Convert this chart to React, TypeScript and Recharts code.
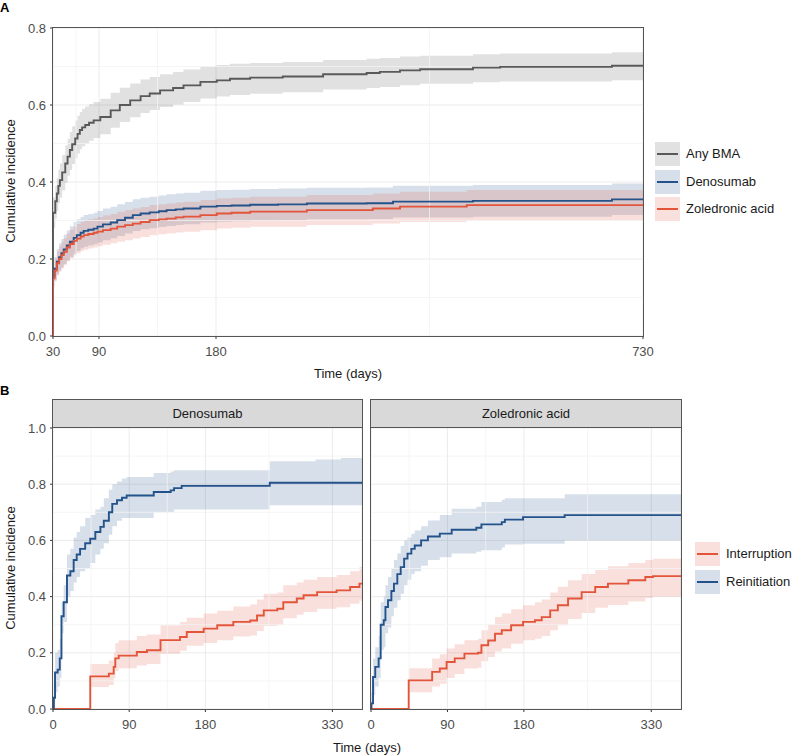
import React from 'react';
import { ComposedChart, Area, Line, XAxis, YAxis, CartesianGrid, ReferenceLine } from 'recharts';

// ---------- Panel A: cumulative incidence of BMA use (days since start) ----------
// first point of each series is the zero at day 30, the curve jumps up from there
const ANY_DAYS = [30, 30, 33, 35, 37, 39, 42, 46, 49, 52, 55, 59, 62, 65, 68, 72, 77, 83, 91, 99, 106, 114, 122, 129, 137, 147, 155, 168, 181, 198, 224, 266, 318, 374, 391, 417, 443, 511, 546, 690, 730];
const ANY_EST = [0, 0.32, 0.35, 0.37, 0.39, 0.405, 0.425, 0.448, 0.466, 0.483, 0.498, 0.513, 0.525, 0.535, 0.542, 0.548, 0.554, 0.56, 0.569, 0.586, 0.6, 0.612, 0.623, 0.63, 0.638, 0.644, 0.651, 0.66, 0.664, 0.668, 0.671, 0.674, 0.68, 0.683, 0.686, 0.69, 0.693, 0.697, 0.699, 0.702, 0.702];
const ANY_LO = [0, 0.28, 0.305, 0.325, 0.345, 0.36, 0.378, 0.398, 0.416, 0.432, 0.447, 0.462, 0.474, 0.485, 0.493, 0.5, 0.507, 0.514, 0.524, 0.541, 0.556, 0.568, 0.579, 0.587, 0.595, 0.601, 0.608, 0.617, 0.622, 0.626, 0.629, 0.633, 0.64, 0.644, 0.647, 0.651, 0.655, 0.659, 0.661, 0.664, 0.664];
const ANY_HI = [0, 0.36, 0.39, 0.41, 0.432, 0.448, 0.47, 0.495, 0.512, 0.53, 0.545, 0.56, 0.572, 0.582, 0.59, 0.596, 0.602, 0.608, 0.616, 0.632, 0.645, 0.656, 0.666, 0.673, 0.68, 0.686, 0.692, 0.7, 0.704, 0.707, 0.709, 0.712, 0.717, 0.72, 0.722, 0.726, 0.728, 0.732, 0.734, 0.737, 0.737];

const DEN_DAYS = [30, 30, 32, 35, 38, 41, 44, 48, 52, 57, 61, 66, 70, 76, 83, 88, 93, 99, 104, 110, 116, 122, 129, 136, 142, 149, 155, 168, 181, 200, 224, 260, 297, 374, 408, 511, 690, 730];
const DEN_EST = [0, 0.155, 0.175, 0.193, 0.205, 0.215, 0.225, 0.235, 0.245, 0.255, 0.262, 0.268, 0.273, 0.276, 0.279, 0.284, 0.29, 0.295, 0.301, 0.307, 0.314, 0.318, 0.321, 0.324, 0.327, 0.329, 0.331, 0.336, 0.338, 0.339, 0.341, 0.342, 0.344, 0.345, 0.349, 0.351, 0.355, 0.355];
const DEN_LO = [0, 0.13, 0.145, 0.16, 0.17, 0.178, 0.187, 0.196, 0.205, 0.214, 0.221, 0.227, 0.232, 0.235, 0.238, 0.243, 0.249, 0.254, 0.26, 0.266, 0.273, 0.277, 0.28, 0.283, 0.286, 0.288, 0.29, 0.295, 0.297, 0.298, 0.3, 0.301, 0.303, 0.304, 0.308, 0.31, 0.314, 0.314];
const DEN_HI = [0, 0.18, 0.205, 0.226, 0.24, 0.252, 0.263, 0.274, 0.285, 0.296, 0.303, 0.309, 0.314, 0.317, 0.32, 0.325, 0.331, 0.336, 0.342, 0.348, 0.355, 0.359, 0.362, 0.365, 0.368, 0.37, 0.372, 0.377, 0.379, 0.38, 0.382, 0.383, 0.385, 0.386, 0.39, 0.392, 0.396, 0.396];

const ZOL_DAYS = [30, 30, 32, 35, 38, 41, 44, 48, 52, 57, 61, 66, 70, 76, 83, 88, 93, 99, 104, 110, 116, 122, 129, 136, 142, 149, 155, 168, 181, 200, 224, 297, 382, 417, 503, 730];
const ZOL_EST = [0, 0.15, 0.17, 0.189, 0.2, 0.21, 0.219, 0.23, 0.239, 0.247, 0.253, 0.258, 0.262, 0.265, 0.268, 0.271, 0.275, 0.279, 0.284, 0.288, 0.292, 0.296, 0.301, 0.303, 0.305, 0.308, 0.31, 0.314, 0.318, 0.32, 0.323, 0.327, 0.331, 0.336, 0.34, 0.34];
const ZOL_LO = [0, 0.125, 0.142, 0.158, 0.167, 0.176, 0.184, 0.194, 0.202, 0.21, 0.215, 0.22, 0.224, 0.227, 0.23, 0.233, 0.237, 0.241, 0.245, 0.249, 0.253, 0.257, 0.262, 0.264, 0.266, 0.269, 0.271, 0.275, 0.279, 0.281, 0.284, 0.288, 0.292, 0.296, 0.3, 0.3];
const ZOL_HI = [0, 0.175, 0.198, 0.22, 0.233, 0.244, 0.254, 0.266, 0.276, 0.284, 0.291, 0.296, 0.3, 0.303, 0.306, 0.309, 0.313, 0.317, 0.323, 0.327, 0.331, 0.335, 0.34, 0.342, 0.344, 0.347, 0.349, 0.353, 0.357, 0.359, 0.362, 0.366, 0.37, 0.375, 0.379, 0.379];

const A_TICKS = [30, 90, 180, 730];
const A_Y_TICKS = [0, 0.2, 0.4, 0.6, 0.8];
const A_Y_MINOR = [0.1, 0.3, 0.5, 0.7];

// ---------- Panel B: interruption / reinitiation, by drug ----------
const B_DEN_RE_DAYS = [0, 1, 2.4, 5.5, 8, 10, 12.6, 16.5, 20.5, 24.4, 28, 32, 38, 44, 50, 56, 60, 66, 70, 75.6, 81.5, 87, 119, 139, 143, 152, 256, 310, 340, 365];
const B_DEN_RE_EST = [0, 0.04, 0.13, 0.14, 0.18, 0.33, 0.38, 0.475, 0.49, 0.53, 0.55, 0.57, 0.59, 0.606, 0.63, 0.648, 0.67, 0.7, 0.73, 0.743, 0.752, 0.76, 0.772, 0.778, 0.786, 0.794, 0.805, 0.805, 0.805, 0.805];
const B_DEN_RE_LO = [0, 0, 0.06, 0.08, 0.11, 0.27, 0.31, 0.4, 0.42, 0.45, 0.47, 0.49, 0.5, 0.52, 0.55, 0.57, 0.59, 0.62, 0.65, 0.67, 0.68, 0.68, 0.7, 0.7, 0.71, 0.71, 0.725, 0.725, 0.725, 0.725];
const B_DEN_RE_HI = [0, 0.09, 0.2, 0.21, 0.25, 0.38, 0.44, 0.55, 0.57, 0.61, 0.63, 0.65, 0.68, 0.69, 0.71, 0.72, 0.75, 0.78, 0.8, 0.81, 0.82, 0.826, 0.84, 0.845, 0.85, 0.85, 0.882, 0.888, 0.893, 0.895];

const B_DEN_IN_DAYS = [0, 44, 66, 71.7, 73.6, 77.6, 99, 111, 127, 150, 158, 178, 194, 213, 233, 241, 249, 265, 272, 288, 296, 312, 335, 351, 362, 365];
const B_DEN_IN_EST = [0, 0.116, 0.126, 0.15, 0.18, 0.19, 0.203, 0.209, 0.245, 0.256, 0.274, 0.286, 0.298, 0.31, 0.315, 0.333, 0.351, 0.357, 0.38, 0.393, 0.405, 0.416, 0.422, 0.434, 0.446, 0.446];
const B_DEN_IN_LO = [0, 0.078, 0.085, 0.11, 0.135, 0.145, 0.155, 0.16, 0.197, 0.207, 0.225, 0.235, 0.245, 0.258, 0.262, 0.278, 0.295, 0.3, 0.323, 0.335, 0.345, 0.357, 0.362, 0.375, 0.385, 0.385];
const B_DEN_IN_HI = [0, 0.16, 0.173, 0.2, 0.235, 0.245, 0.26, 0.265, 0.298, 0.31, 0.325, 0.34, 0.35, 0.365, 0.372, 0.39, 0.41, 0.415, 0.44, 0.45, 0.46, 0.47, 0.477, 0.49, 0.505, 0.505];

const B_ZOL_RE_DAYS = [0, 0.4, 2.4, 5, 9, 11.4, 15, 17, 20, 24, 27, 31, 35, 39, 43, 47.5, 51.5, 59, 67, 81, 95, 124, 130, 154, 157.6, 179, 228, 365];
const B_ZOL_RE_EST = [0, 0.02, 0.114, 0.15, 0.18, 0.3, 0.316, 0.363, 0.387, 0.42, 0.446, 0.48, 0.505, 0.535, 0.553, 0.57, 0.582, 0.6, 0.614, 0.624, 0.638, 0.645, 0.657, 0.665, 0.674, 0.683, 0.69, 0.69];
const B_ZOL_RE_LO = [0, 0, 0.05, 0.08, 0.11, 0.21, 0.22, 0.27, 0.29, 0.33, 0.36, 0.387, 0.41, 0.44, 0.46, 0.48, 0.49, 0.51, 0.53, 0.54, 0.553, 0.56, 0.565, 0.575, 0.585, 0.588, 0.6, 0.6];
const B_ZOL_RE_HI = [0, 0.06, 0.18, 0.22, 0.26, 0.38, 0.4, 0.44, 0.47, 0.5, 0.53, 0.553, 0.58, 0.6, 0.61, 0.624, 0.635, 0.65, 0.671, 0.69, 0.713, 0.72, 0.737, 0.745, 0.75, 0.75, 0.764, 0.764];

const B_ZOL_IN_DAYS = [0, 44.4, 72, 81, 89, 98.6, 110, 126, 130, 138, 146, 154, 165, 179, 193, 201, 211, 220, 232, 248, 264, 279, 303, 323, 332, 365];
const B_ZOL_IN_EST = [0, 0.102, 0.132, 0.144, 0.167, 0.18, 0.197, 0.2, 0.227, 0.244, 0.268, 0.28, 0.298, 0.31, 0.316, 0.327, 0.351, 0.369, 0.393, 0.416, 0.434, 0.446, 0.458, 0.47, 0.473, 0.473];
const B_ZOL_IN_LO = [0, 0.06, 0.08, 0.09, 0.11, 0.125, 0.144, 0.147, 0.17, 0.185, 0.205, 0.215, 0.232, 0.245, 0.25, 0.26, 0.28, 0.298, 0.32, 0.342, 0.36, 0.37, 0.383, 0.395, 0.4, 0.4];
const B_ZOL_IN_HI = [0, 0.145, 0.18, 0.195, 0.215, 0.23, 0.245, 0.25, 0.28, 0.3, 0.327, 0.34, 0.355, 0.369, 0.38, 0.39, 0.415, 0.435, 0.458, 0.48, 0.495, 0.508, 0.52, 0.53, 0.535, 0.535];

const B_TICKS = [0, 90, 180, 330];
const B_MINOR = [45, 135, 255];
const B_Y_TICKS = [0, 0.2, 0.4, 0.6, 0.8, 1.0];
const B_Y_MINOR = [0.1, 0.3, 0.5, 0.7, 0.9];

// ---------- styling ----------
const FONT = '"Liberation Sans", Arial, Helvetica, sans-serif';
const GREY = '#595959';
const BLUE = '#24528a';
const RED = '#e2553b';
const BAND_ALPHA = 0.18;
const BORDER = '#555555';

// panel A x axis is stretched unevenly between its breaks; keep the same look
const A_POS = [0, 46, 163, 590];
const posA = (d: number) => {
  for (let i = 0; i < A_TICKS.length - 1; i++) {
    if (d <= A_TICKS[i + 1]) {
      const f = (d - A_TICKS[i]) / (A_TICKS[i + 1] - A_TICKS[i]);
      return A_POS[i] + f * (A_POS[i + 1] - A_POS[i]);
    }
  }
  return A_POS[A_POS.length - 1];
};
const A_MINOR_POS = A_POS.slice(1).map((p, i) => (p + A_POS[i]) / 2);

type Row = { x: number; est: number; band: [number, number] };
const toRows = (days: number[], est: number[], lo: number[], hi: number[], xf: (d: number) => number = (d) => d): Row[] =>
  days.map((d, i) => ({ x: xf(d), est: est[i], band: [lo[i], hi[i]] }));

type Series = { name: string; color: string; rows: Row[] };

const SERIES_A: Series[] = [
  { name: 'Any BMA', color: GREY, rows: toRows(ANY_DAYS, ANY_EST, ANY_LO, ANY_HI, posA) },
  { name: 'Denosumab', color: BLUE, rows: toRows(DEN_DAYS, DEN_EST, DEN_LO, DEN_HI, posA) },
  { name: 'Zoledronic acid', color: RED, rows: toRows(ZOL_DAYS, ZOL_EST, ZOL_LO, ZOL_HI, posA) },
];

const SERIES_B_DEN: Series[] = [
  { name: 'Interruption', color: RED, rows: toRows(B_DEN_IN_DAYS, B_DEN_IN_EST, B_DEN_IN_LO, B_DEN_IN_HI) },
  { name: 'Reinitiation', color: BLUE, rows: toRows(B_DEN_RE_DAYS, B_DEN_RE_EST, B_DEN_RE_LO, B_DEN_RE_HI) },
];
const SERIES_B_ZOL: Series[] = [
  { name: 'Interruption', color: RED, rows: toRows(B_ZOL_IN_DAYS, B_ZOL_IN_EST, B_ZOL_IN_LO, B_ZOL_IN_HI) },
  { name: 'Reinitiation', color: BLUE, rows: toRows(B_ZOL_RE_DAYS, B_ZOL_RE_EST, B_ZOL_RE_LO, B_ZOL_RE_HI) },
];

const tickStyle = { fontSize: 13, fill: '#4d4d4d', fontFamily: FONT };

interface PanelProps {
  width: number;
  height: number;
  margin: { top: number; right: number; bottom: number; left: number };
  xDomain: [number, number];
  xTicks: number[];
  xLabel: (v: number) => string;
  xMinor: number[];
  yDomain: [number, number];
  yTicks: number[];
  yMinor: number[];
  showY: boolean;
  series: Series[];
}

const CurvePanel: React.FC<PanelProps> = (p) => (
  <ComposedChart width={p.width} height={p.height} margin={p.margin} style={{ fontFamily: FONT }}>
    <CartesianGrid stroke="#ebebeb" strokeWidth={1} />
    {p.xMinor.map((v) => (
      <ReferenceLine key={'vx' + v} x={v} stroke="#f3f3f3" strokeWidth={0.8} />
    ))}
    {p.yMinor.map((v) => (
      <ReferenceLine key={'hy' + v} y={v} stroke="#f3f3f3" strokeWidth={0.8} />
    ))}
    <XAxis
      type="number"
      dataKey="x"
      domain={p.xDomain}
      ticks={p.xTicks}
      interval={0}
      allowDataOverflow
      tickFormatter={p.xLabel}
      tickSize={3}
      tickMargin={8}
      axisLine={false}
      tickLine={{ stroke: '#333333' }}
      tick={tickStyle}
      height={30}
    />
    <YAxis
      type="number"
      domain={p.yDomain}
      ticks={p.yTicks}
      interval={0}
      allowDataOverflow
      tickFormatter={(v: number) => v.toFixed(1)}
      tickSize={3}
      tickMargin={4}
      axisLine={false}
      tickLine={{ stroke: '#333333' }}
      tick={tickStyle}
      width={p.showY ? 53 : 0}
      hide={!p.showY}
    />
    {p.series.map((s) => (
      <Area
        key={'band' + s.name}
        data={s.rows}
        dataKey="band"
        type="stepAfter"
        fill={s.color}
        fillOpacity={BAND_ALPHA}
        stroke="none"
        isAnimationActive={false}
      />
    ))}
    {p.series.map((s) => (
      <Line
        key={'line' + s.name}
        data={s.rows}
        dataKey="est"
        type="stepAfter"
        stroke={s.color}
        strokeWidth={1.9}
        dot={false}
        activeDot={false}
        isAnimationActive={false}
      />
    ))}
  </ComposedChart>
);

const abs = (left: number, top: number, extra: React.CSSProperties = {}): React.CSSProperties => ({
  position: 'absolute',
  left,
  top,
  ...extra,
});

const Frame: React.FC<{ left: number; top: number; width: number; height: number }> = ({ left, top, width, height }) => (
  <div style={abs(left, top, { width, height, border: `1px solid ${BORDER}`, boxSizing: 'border-box', pointerEvents: 'none' })} />
);

const Strip: React.FC<{ left: number; width: number; text: string }> = ({ left, width, text }) => (
  <div
    style={abs(left, 399, {
      width,
      height: 29,
      background: '#d9d9d9',
      border: `1px solid ${BORDER}`,
      boxSizing: 'border-box',
      fontSize: 13,
      color: '#1a1a1a',
      textAlign: 'center',
      lineHeight: '27px',
    })}
  >
    {text}
  </div>
);

const LegendKeys: React.FC<{ left: number; top: number; series: Series[] }> = ({ left, top, series }) => (
  <div style={abs(left, top)}>
    {series.map((s, i) => (
      <div key={s.name} style={abs(0, i * 27.5, { width: 140, height: 24 })}>
        <svg width={25} height={24} style={{ position: 'absolute', left: 0, top: 0 }}>
          <rect x={0} y={0} width={25} height={24} fill={s.color} fillOpacity={BAND_ALPHA} />
          <line x1={2} x2={23} y1={12} y2={12} stroke={s.color} strokeWidth={2} />
        </svg>
        <div style={abs(31, 0, { fontSize: 13, color: '#1a1a1a', lineHeight: '24px', whiteSpace: 'nowrap' })}>{s.name}</div>
      </div>
    ))}
  </div>
);

const YTitle: React.FC<{ cy: number }> = ({ cy }) => (
  <div
    style={abs(10, cy, {
      transform: 'translate(-50%, -50%) rotate(-90deg)',
      fontSize: 13,
      color: '#1a1a1a',
      whiteSpace: 'nowrap',
    })}
  >
    Cumulative incidence
  </div>
);

const XTitle: React.FC<{ cx: number; cy: number }> = ({ cx, cy }) => (
  <div style={abs(cx, cy, { transform: 'translate(-50%, -50%)', fontSize: 13, color: '#1a1a1a', whiteSpace: 'nowrap' })}>
    Time (days)
  </div>
);

const aLabel = (v: number) => {
  const i = A_POS.indexOf(v);
  return i >= 0 ? String(A_TICKS[i]) : '';
};

export default function App() {
  return (
    <div style={{ position: 'absolute', left: 0, top: 0, width: 793, height: 755, background: '#fff', fontFamily: FONT, overflow: 'hidden' }}>
      <div style={abs(0, 0, { fontSize: 13, fontWeight: 'bold' })}>A</div>
      <div style={abs(0, 0)}>
        <CurvePanel
          width={660}
          height={366}
          margin={{ top: 28, right: 17, bottom: 0, left: 0 }}
          xDomain={[0, 590]}
          xTicks={A_POS}
          xLabel={aLabel}
          xMinor={A_MINOR_POS}
          yDomain={[0, 0.8]}
          yTicks={A_Y_TICKS}
          yMinor={A_Y_MINOR}
          showY
          series={SERIES_A}
        />
      </div>
      <Frame left={52} top={27} width={592} height={310} />
      <YTitle cy={181} />
      <XTitle cx={348} cy={373} />
      <LegendKeys left={655} top={142} series={SERIES_A} />

      <div style={abs(0, 383, { fontSize: 13, fontWeight: 'bold' })}>B</div>
      <Strip left={52} width={311} text="Denosumab" />
      <Strip left={370} width={312} text="Zoledronic acid" />
      <div style={abs(0, 400)}>
        <CurvePanel
          width={362}
          height={339}
          margin={{ top: 28, right: 0, bottom: 0, left: 0 }}
          xDomain={[0, 365]}
          xTicks={B_TICKS}
          xLabel={(v) => String(v)}
          xMinor={B_MINOR}
          yDomain={[0, 1]}
          yTicks={B_Y_TICKS}
          yMinor={B_Y_MINOR}
          showY
          series={SERIES_B_DEN}
        />
      </div>
      <div style={abs(361, 400)}>
        <CurvePanel
          width={320}
          height={339}
          margin={{ top: 28, right: 0, bottom: 0, left: 10 }}
          xDomain={[0, 365]}
          xTicks={B_TICKS}
          xLabel={(v) => String(v)}
          xMinor={B_MINOR}
          yDomain={[0, 1]}
          yTicks={B_Y_TICKS}
          yMinor={B_Y_MINOR}
          showY={false}
          series={SERIES_B_ZOL}
        />
      </div>
      <Frame left={52} top={427} width={311} height={283} />
      <Frame left={370} top={427} width={312} height={283} />
      <YTitle cy={568} />
      <XTitle cx={367} cy={747} />
      <LegendKeys left={695} top={542} series={SERIES_B_DEN} />
    </div>
  );
}
